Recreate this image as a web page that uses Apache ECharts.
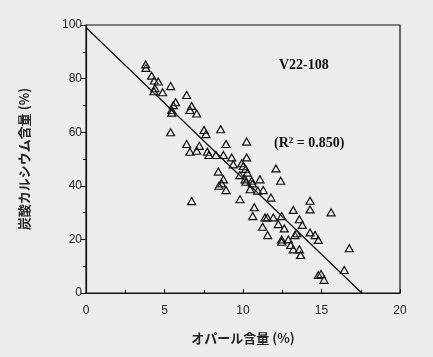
<!DOCTYPE html>
<html><head><meta charset="utf-8">
<script src="https://cdn.jsdelivr.net/npm/echarts@6/dist/echarts.min.js"></script>
<style>html,body{margin:0;padding:0;background:#ececec}#c{width:433px;height:357px}</style>
</head><body><div id="c"></div>
<script>
var opalX = [3.82,3.80,4.18,4.35,4.60,4.39,4.33,4.88,5.39,6.41,5.71,5.56,5.46,5.46,6.73,6.62,7.05,5.39,7.52,7.64,8.58,6.41,6.62,7.22,7.05,7.73,7.83,8.28,8.92,8.75,9.28,10.23,10.23,9.38,9.92,10.02,10.17,10.27,9.80,8.43,8.75,8.64,8.47,8.92,10.13,10.19,10.55,10.60,11.08,10.45,10.94,11.29,12.10,12.40,9.81,11.78,6.73,10.72,10.62,11.40,11.55,11.93,12.46,13.20,14.27,14.27,15.61,12.25,12.63,13.59,13.78,11.25,11.57,12.46,12.46,12.89,13.31,13.42,14.27,14.59,14.80,13.04,13.20,13.59,13.67,16.77,16.45,14.80,14.97,15.16];
var caco3Y = [84.0,85.3,81.1,79.3,78.9,76.4,75.3,74.9,77.2,73.9,71.2,70.1,68.3,67.3,69.8,68.3,67.0,60.0,60.8,59.3,61.1,55.6,52.7,54.9,53.1,52.7,51.5,51.5,55.6,51.5,50.6,56.5,50.6,48.0,48.4,47.4,46.3,44.9,44.0,45.3,42.4,40.9,40.0,38.4,42.4,41.5,41.9,40.9,42.4,38.7,38.2,38.4,46.5,41.9,35.0,35.6,34.3,32.0,28.7,28.2,28.2,28.2,28.7,31.0,34.4,31.2,30.1,25.7,24.1,27.5,25.4,24.7,21.6,20.0,19.1,20.0,21.6,22.3,22.6,21.6,19.8,17.9,16.3,16.3,14.2,16.7,8.6,6.7,7.1,4.9];
var fitX = [0, 17.56];
var fitY = [99.1, 0];
var xTicks = [0, 5, 10, 15, 20];
var yTicks = [0, 20, 40, 60, 80, 100];

var pts = opalX.map(function(x, i){ return [x, caco3Y[i]]; });
var line = fitX.map(function(x, i){ return [x, fitY[i]]; });

var chart = echarts.init(document.getElementById('c'));
var lblFont = {color:'#222', fontSize:12, fontFamily:'Liberation Sans, Arial, sans-serif'};
chart.setOption({
  backgroundColor:'#ececec',
  animation:false,
  grid:{left:86, right:33, top:25, bottom:64, show:true, borderColor:'#111', borderWidth:1.2, backgroundColor:'transparent'},
  xAxis:{
    type:'value', min:xTicks[0], max:xTicks[xTicks.length-1], interval:5,
    axisLine:{lineStyle:{color:'#111', width:1.2}},
    axisTick:{inside:true, length:4, lineStyle:{color:'#111'}},
    minorTick:{show:true, splitNumber:2, length:3, lineStyle:{color:'#111'}},
    splitLine:{show:false},
    axisLabel:Object.assign({margin:12}, lblFont),
    name:'オパール含量 (%)', nameLocation:'middle', nameGap:39,
    nameTextStyle:{color:'#222', fontSize:13, fontWeight:'bold', fontFamily:'Noto Sans CJK JP, sans-serif'}
  },
  yAxis:{
    type:'value', min:yTicks[0], max:yTicks[yTicks.length-1], interval:20,
    axisLine:{lineStyle:{color:'#111', width:1.2}},
    axisTick:{inside:false, length:5, lineStyle:{color:'#111'}},
    minorTick:{show:true, splitNumber:2, length:3, lineStyle:{color:'#111'}},
    splitLine:{show:false},
    axisLabel:Object.assign({margin:4}, lblFont),
    name:'炭酸カルシウム含量 (%)', nameLocation:'middle', nameGap:55, nameRotate:90,
    nameTextStyle:{color:'#222', fontSize:13, fontWeight:'bold', fontFamily:'Noto Sans CJK JP, sans-serif'}
  },
  series:[
    {type:'line', data:line, symbol:'none', lineStyle:{color:'#111', width:1.3}, z:2},
    {type:'scatter', data:pts, symbol:'triangle', symbolSize:[8,7],
     itemStyle:{color:'rgba(236,236,236,0.2)', borderColor:'#111', borderWidth:1.2, opacity:1}, z:3}
  ],
  graphic:[
    {type:'text', left:279, top:58, style:{text:'V22-108', fill:'#111', font:'bold 14px "Liberation Serif", "Times New Roman", serif'}},
    {type:'text', left:274, top:136, style:{text:'(R{sup|2} = 0.850)', fill:'#111', font:'bold 14px "Liberation Serif", "Times New Roman", serif',
      rich:{sup:{fontSize:9, fontWeight:'bold', fontFamily:'Liberation Serif', verticalAlign:'top', padding:[0,0,6,0]}}}}
  ]
});
</script></body></html>
